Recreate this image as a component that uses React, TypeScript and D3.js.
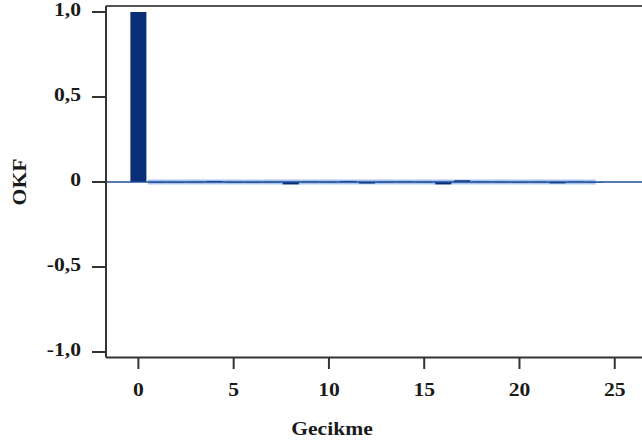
import React from "react";
import * as d3 from "d3";

const lags = [0, 1, 2, 3, 4, 5, 6, 7, 8, 9, 10, 11, 12, 13, 14, 15, 16, 17, 18, 19, 20, 21, 22, 23, 24];
const acf = [1.0, -0.003, -0.002, 0.001, 0.006, -0.002, -0.001, 0.001, -0.014, 0.002, 0.001, 0.006, -0.009, 0.001, 0.002, 0.001, -0.014, 0.01, 0.002, 0.001, -0.002, 0.001, -0.008, 0.002, -0.001];
const ciUpper = 0.014;
const ciLower = -0.014;
const ciLags = [0.5, 24.0];
const yTicks = [1.0, 0.5, 0, -0.5, -1.0];
const yTickLabels = ["1,0", "0,5", "0", "-0,5", "-1,0"];
const xTicks = [0, 5, 10, 15, 20, 25];

const font = "'Liberation Serif', 'Times New Roman', serif";
const SX = 1.2;

function Label({ x, y, anchor, rotate = 0, children }: { x: number; y: number; anchor: string; rotate?: number; children: React.ReactNode }) {
  return (
    <text transform={`translate(${x},${y}) rotate(${rotate}) scale(${SX},1)`} textAnchor={anchor}
      fontFamily={font} fontWeight="bold" fontSize={18} fill="#1a1a1a" dy="0.35em">{children}</text>
  );
}

export default function App() {
  const W = 642, H = 444;
  const left = 106, right = 642, top = 6, bottom = 357.5;
  const x = d3.scaleLinear().domain([-1.7, 26.43]).range([left, right]);
  const y = d3.scaleLinear().domain([-1, 1]).range([352, 12]);
  const bw = x(0.42) - x(-0.42);
  const ciArea = d3.area<number>().x((d) => x(d)).y0(y(ciLower)).y1(y(ciUpper));
  return (
    <svg width={W} height={H} style={{ position: "absolute", left: 0, top: 0, background: "#fff" }}>
      <rect x={0} y={0} width={W} height={H} fill="#fff" />
      <path d={ciArea(ciLags) || ""} fill="#a9c3ea" />
      {lags.map((l, i) => (
        <rect key={l} x={x(l) - bw / 2} y={y(Math.max(0, acf[i]))} width={bw}
          height={Math.max(Math.abs(y(acf[i]) - y(0)), 0.5)} fill="#0a2f78" />
      ))}
      <line x1={left} x2={right} y1={y(0)} y2={y(0)} stroke="#1c4f9c" strokeWidth={1.5} />
      <line x1={left} x2={right} y1={top} y2={top} stroke="#555" strokeWidth={2} />
      <line x1={left} x2={left} y1={top} y2={bottom} stroke="#333" strokeWidth={2} />
      <line x1={left} x2={right} y1={bottom} y2={bottom} stroke="#333" strokeWidth={2} />
      {yTicks.map((t, i) => (
        <g key={t}>
          <line x1={92} x2={left} y1={y(t)} y2={y(t)} stroke="#333" strokeWidth={2} />
          <Label x={81} y={y(t) - 2} anchor="end">{yTickLabels[i]}</Label>
        </g>
      ))}
      {xTicks.map((t) => (
        <g key={t}>
          <line x1={x(t)} x2={x(t)} y1={bottom} y2={369} stroke="#333" strokeWidth={2} />
          <Label x={x(t)} y={390} anchor="middle">{t}</Label>
        </g>
      ))}
      <Label x={332} y={429} anchor="middle">Gecikme</Label>
      <Label x={20} y={y(0)} anchor="middle" rotate={-90}>OKF</Label>
    </svg>
  );
}
